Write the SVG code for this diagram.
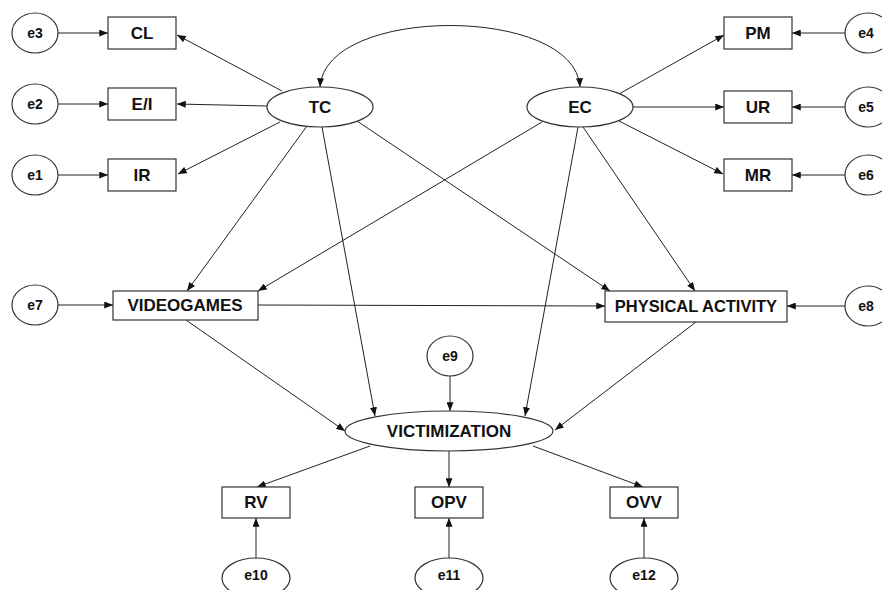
<svg xmlns="http://www.w3.org/2000/svg" width="882" height="590" viewBox="0 0 882 590">
<style>
.n{fill:#fff;stroke:#333;stroke-width:1.2}
.t{font-family:"Liberation Sans",Arial,sans-serif;font-weight:bold;font-size:17px;fill:#111;text-anchor:middle;dominant-baseline:central}
.e{font-size:14px}
.c{stroke:#222;stroke-width:1;fill:none;marker-end:url(#a)}
</style>
<defs>
<marker id="a" viewBox="0 0 10 8" refX="10" refY="4" markerWidth="9" markerHeight="7" markerUnits="userSpaceOnUse" orient="auto">
<path d="M0,0L10,4L0,8z" fill="#111"/>
</marker>
<marker id="s" viewBox="0 0 10 8" refX="10" refY="4" markerWidth="9" markerHeight="7" markerUnits="userSpaceOnUse" orient="auto-start-reverse">
<path d="M0,0L10,4L0,8z" fill="#111"/>
</marker>
</defs>
<rect width="882" height="590" fill="#fff"/>
<g id="connectors">
<path d="M320,87 C325,5 575,5 580,87" stroke="#222" fill="none" marker-start="url(#s)" marker-end="url(#s)"/>
<line class="c" x1="58" y1="33" x2="108" y2="33"/>
<line class="c" x1="58" y1="104" x2="108" y2="104"/>
<line class="c" x1="58" y1="175" x2="108" y2="175"/>
<line class="c" x1="282" y1="91" x2="177" y2="35"/>
<line class="c" x1="267" y1="106" x2="177" y2="104"/>
<line class="c" x1="280" y1="122" x2="178" y2="174"/>
<line class="c" x1="845" y1="33" x2="792" y2="33"/>
<line class="c" x1="845" y1="107" x2="792" y2="107"/>
<line class="c" x1="845" y1="175" x2="792" y2="175"/>
<line class="c" x1="619" y1="94" x2="724" y2="35"/>
<line class="c" x1="633" y1="107" x2="724" y2="107"/>
<line class="c" x1="619" y1="121" x2="723" y2="174"/>
<line class="c" x1="307" y1="126" x2="187" y2="291"/>
<line class="c" x1="542" y1="122" x2="258" y2="291"/>
<line class="c" x1="322" y1="127" x2="375" y2="416"/>
<line class="c" x1="357" y1="121" x2="610" y2="291"/>
<line class="c" x1="583" y1="127" x2="695" y2="291"/>
<line class="c" x1="578" y1="127" x2="525" y2="416"/>
<line class="c" x1="58" y1="305" x2="113" y2="305"/>
<line class="c" x1="845" y1="306" x2="787" y2="306"/>
<line class="c" x1="258" y1="305" x2="605" y2="306"/>
<line class="c" x1="186" y1="320" x2="345" y2="431"/>
<line class="c" x1="696" y1="322" x2="555" y2="430"/>
<line class="c" x1="450" y1="376" x2="450" y2="411"/>
<line class="c" x1="370" y1="446" x2="257" y2="487"/>
<line class="c" x1="449" y1="451" x2="449" y2="487"/>
<line class="c" x1="533" y1="446" x2="643" y2="487"/>
<line class="c" x1="256" y1="558" x2="256" y2="518"/>
<line class="c" x1="449" y1="558" x2="449" y2="518"/>
<line class="c" x1="644" y1="558" x2="644" y2="518"/>
</g>
<g id="e3"><ellipse class="n" cx="35" cy="33" rx="23" ry="20"/><text class="t e" x="35" y="33">e3</text></g>
<g id="e2"><ellipse class="n" cx="35" cy="104" rx="23" ry="20"/><text class="t e" x="35" y="104">e2</text></g>
<g id="e1"><ellipse class="n" cx="35" cy="175" rx="23" ry="20"/><text class="t e" x="35" y="175">e1</text></g>
<g id="CL"><rect class="n" x="108" y="17" width="68" height="32"/><text class="t" x="142" y="33">CL</text></g>
<g id="EI"><rect class="n" x="108" y="88" width="68" height="32"/><text class="t" x="142" y="104">E/I</text></g>
<g id="IR"><rect class="n" x="108" y="159" width="68" height="32"/><text class="t" x="142" y="175">IR</text></g>
<g id="TC"><ellipse class="n" cx="320" cy="107" rx="53" ry="20"/><text class="t" x="320" y="107">TC</text></g>
<g id="EC"><ellipse class="n" cx="580" cy="107" rx="53" ry="20"/><text class="t" x="580" y="107">EC</text></g>
<g id="PM"><rect class="n" x="724" y="17" width="68" height="32"/><text class="t" x="758" y="33">PM</text></g>
<g id="UR"><rect class="n" x="724" y="91" width="68" height="32"/><text class="t" x="758" y="107">UR</text></g>
<g id="MR"><rect class="n" x="724" y="159" width="68" height="32"/><text class="t" x="758" y="175">MR</text></g>
<g id="e4"><ellipse class="n" cx="868" cy="33" rx="23" ry="20"/><text class="t e" x="866" y="33">e4</text></g>
<g id="e5"><ellipse class="n" cx="868" cy="107" rx="23" ry="20"/><text class="t e" x="866" y="107">e5</text></g>
<g id="e6"><ellipse class="n" cx="868" cy="175" rx="23" ry="20"/><text class="t e" x="866" y="175">e6</text></g>
<g id="e7"><ellipse class="n" cx="35" cy="305" rx="23" ry="20"/><text class="t e" x="35" y="305">e7</text></g>
<g id="VIDEOGAMES"><rect class="n" x="113" y="291" width="145" height="29"/><text class="t" x="185" y="305">VIDEOGAMES</text></g>
<g id="PA"><rect class="n" x="605" y="291" width="182" height="31"/><text class="t" x="696" y="306" style="font-size:16.5px">PHYSICAL ACTIVITY</text></g>
<g id="e8"><ellipse class="n" cx="868" cy="306" rx="23" ry="20"/><text class="t e" x="866" y="306">e8</text></g>
<g id="e9"><ellipse class="n" cx="450" cy="356" rx="23" ry="20"/><text class="t e" x="450" y="356">e9</text></g>
<g id="VICTIMIZATION"><ellipse class="n" cx="449" cy="431" rx="104" ry="20"/><text class="t" x="449" y="431">VICTIMIZATION</text></g>
<g id="RV"><rect class="n" x="222" y="487" width="68" height="31"/><text class="t" x="256" y="502">RV</text></g>
<g id="OPV"><rect class="n" x="415" y="487" width="68" height="31"/><text class="t" x="449" y="502">OPV</text></g>
<g id="OVV"><rect class="n" x="610" y="487" width="68" height="31"/><text class="t" x="644" y="502">OVV</text></g>
<g id="e10"><ellipse class="n" cx="256" cy="578" rx="34" ry="20"/><text class="t e" x="256" y="575">e10</text></g>
<g id="e11"><ellipse class="n" cx="449" cy="578" rx="34" ry="20"/><text class="t e" x="449" y="575">e11</text></g>
<g id="e12"><ellipse class="n" cx="644" cy="578" rx="34" ry="20"/><text class="t e" x="644" y="575">e12</text></g>
</svg>
